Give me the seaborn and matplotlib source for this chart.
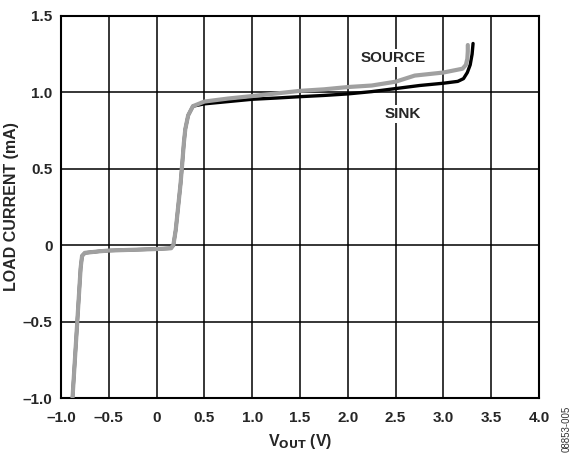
import pandas as pd
import matplotlib
matplotlib.use("Agg")
import matplotlib.pyplot as plt
import seaborn as sns

sns.set_style("white")
plt.rcParams['font.family'] = ['Liberation Sans', 'DejaVu Sans']
plt.rcParams['font.weight'] = 'bold'

# Shared part of both curves (they overlap up to the knee).
common_v = [-0.88, -0.855, -0.83, -0.81, -0.795, -0.78, -0.75, -0.6, -0.5, -0.25, 0.0, 0.15, 0.175,
            0.2, 0.225, 0.25, 0.27, 0.285, 0.30, 0.33, 0.38]
common_i = [-1.0, -0.75, -0.5, -0.3, -0.15, -0.07, -0.05, -0.04, -0.035, -0.03, -0.025, -0.02, 0.0,
            0.1, 0.25, 0.4, 0.55, 0.67, 0.76, 0.85, 0.91]

sink_v = [0.5, 0.75, 1.0, 1.25, 1.5, 1.75, 2.0, 2.25, 2.5, 2.75, 3.0, 3.15, 3.21, 3.25, 3.28, 3.30, 3.31]
sink_i = [0.925, 0.94, 0.955, 0.963, 0.972, 0.98, 0.99, 1.005, 1.025, 1.045, 1.06, 1.072, 1.09, 1.13, 1.18, 1.25, 1.32]

source_v = [0.5, 0.75, 1.0, 1.25, 1.5, 1.75, 2.0, 2.25, 2.5, 2.7, 3.0, 3.2, 3.235, 3.25, 3.255, 3.255]
source_i = [0.94, 0.96, 0.976, 0.993, 1.01, 1.02, 1.035, 1.045, 1.07, 1.11, 1.13, 1.155, 1.18, 1.22, 1.27, 1.31]

x_ticks = [-1.0, -0.5, 0, 0.5, 1.0, 1.5, 2.0, 2.5, 3.0, 3.5, 4.0]
x_labels = ['\u20131.0', '\u20130.5', '0', '0.5', '1.0', '1.5', '2.0', '2.5', '3.0', '3.5', '4.0']
y_ticks = [-1.0, -0.5, 0, 0.5, 1.0, 1.5]
y_labels = ['\u20131.0', '\u20130.5', '0', '0.5', '1.0', '1.5']

sink = pd.DataFrame({'v': common_v + sink_v, 'i': common_i + sink_i})
source = pd.DataFrame({'v': common_v + source_v, 'i': common_i + source_i})

fig = plt.figure(figsize=(5.73, 4.54), dpi=100)
ax = fig.add_axes([0.1065, 0.1233, 0.8342, 0.8415])

sns.lineplot(data=sink, x='v', y='i', sort=False, estimator=None, color='black', linewidth=2.4, ax=ax, zorder=3)
sns.lineplot(data=source, x='v', y='i', sort=False, estimator=None, color='#a0a0a0', linewidth=3.0, ax=ax, zorder=4)

ax.set_xlim(-1.0, 4.0)
ax.set_ylim(-1.0, 1.5)
ax.set_xticks(x_ticks)
ax.set_xticklabels(x_labels)
ax.set_yticks(y_ticks)
ax.set_yticklabels(y_labels)
ax.tick_params(length=0, labelsize=11)
ax.tick_params(axis='x', pad=9)
ax.tick_params(axis='y', pad=6)
ax.grid(True, color='black', linewidth=1.1)
for s in ax.spines.values():
    s.set_color('black')
    s.set_linewidth(1.5)

ax.set_xlabel('V$_{\\mathbf{OUT}}$ (V)', fontsize=11.5, fontweight='bold')
ax.set_ylabel('LOAD CURRENT (mA)', fontsize=11.5, fontweight='bold')
ax.xaxis.set_label_coords(0.5, -0.09)
ax.yaxis.set_label_coords(-0.088, 0.5)

bbox = dict(facecolor='white', edgecolor='none', pad=1.5)
ax.text(2.47, 1.225, 'SOURCE', fontsize=11, fontweight='bold', ha='center', va='center', bbox=bbox, zorder=5)
ax.text(2.57, 0.86, 'SINK', fontsize=11, fontweight='bold', ha='center', va='center', bbox=bbox, zorder=5)

fig.text(0.997, 0.055, '08853-005', rotation=90, fontsize=7, fontweight='normal',
         ha='right', va='center', color='#333333')

fig.savefig('out.png', dpi=100)
